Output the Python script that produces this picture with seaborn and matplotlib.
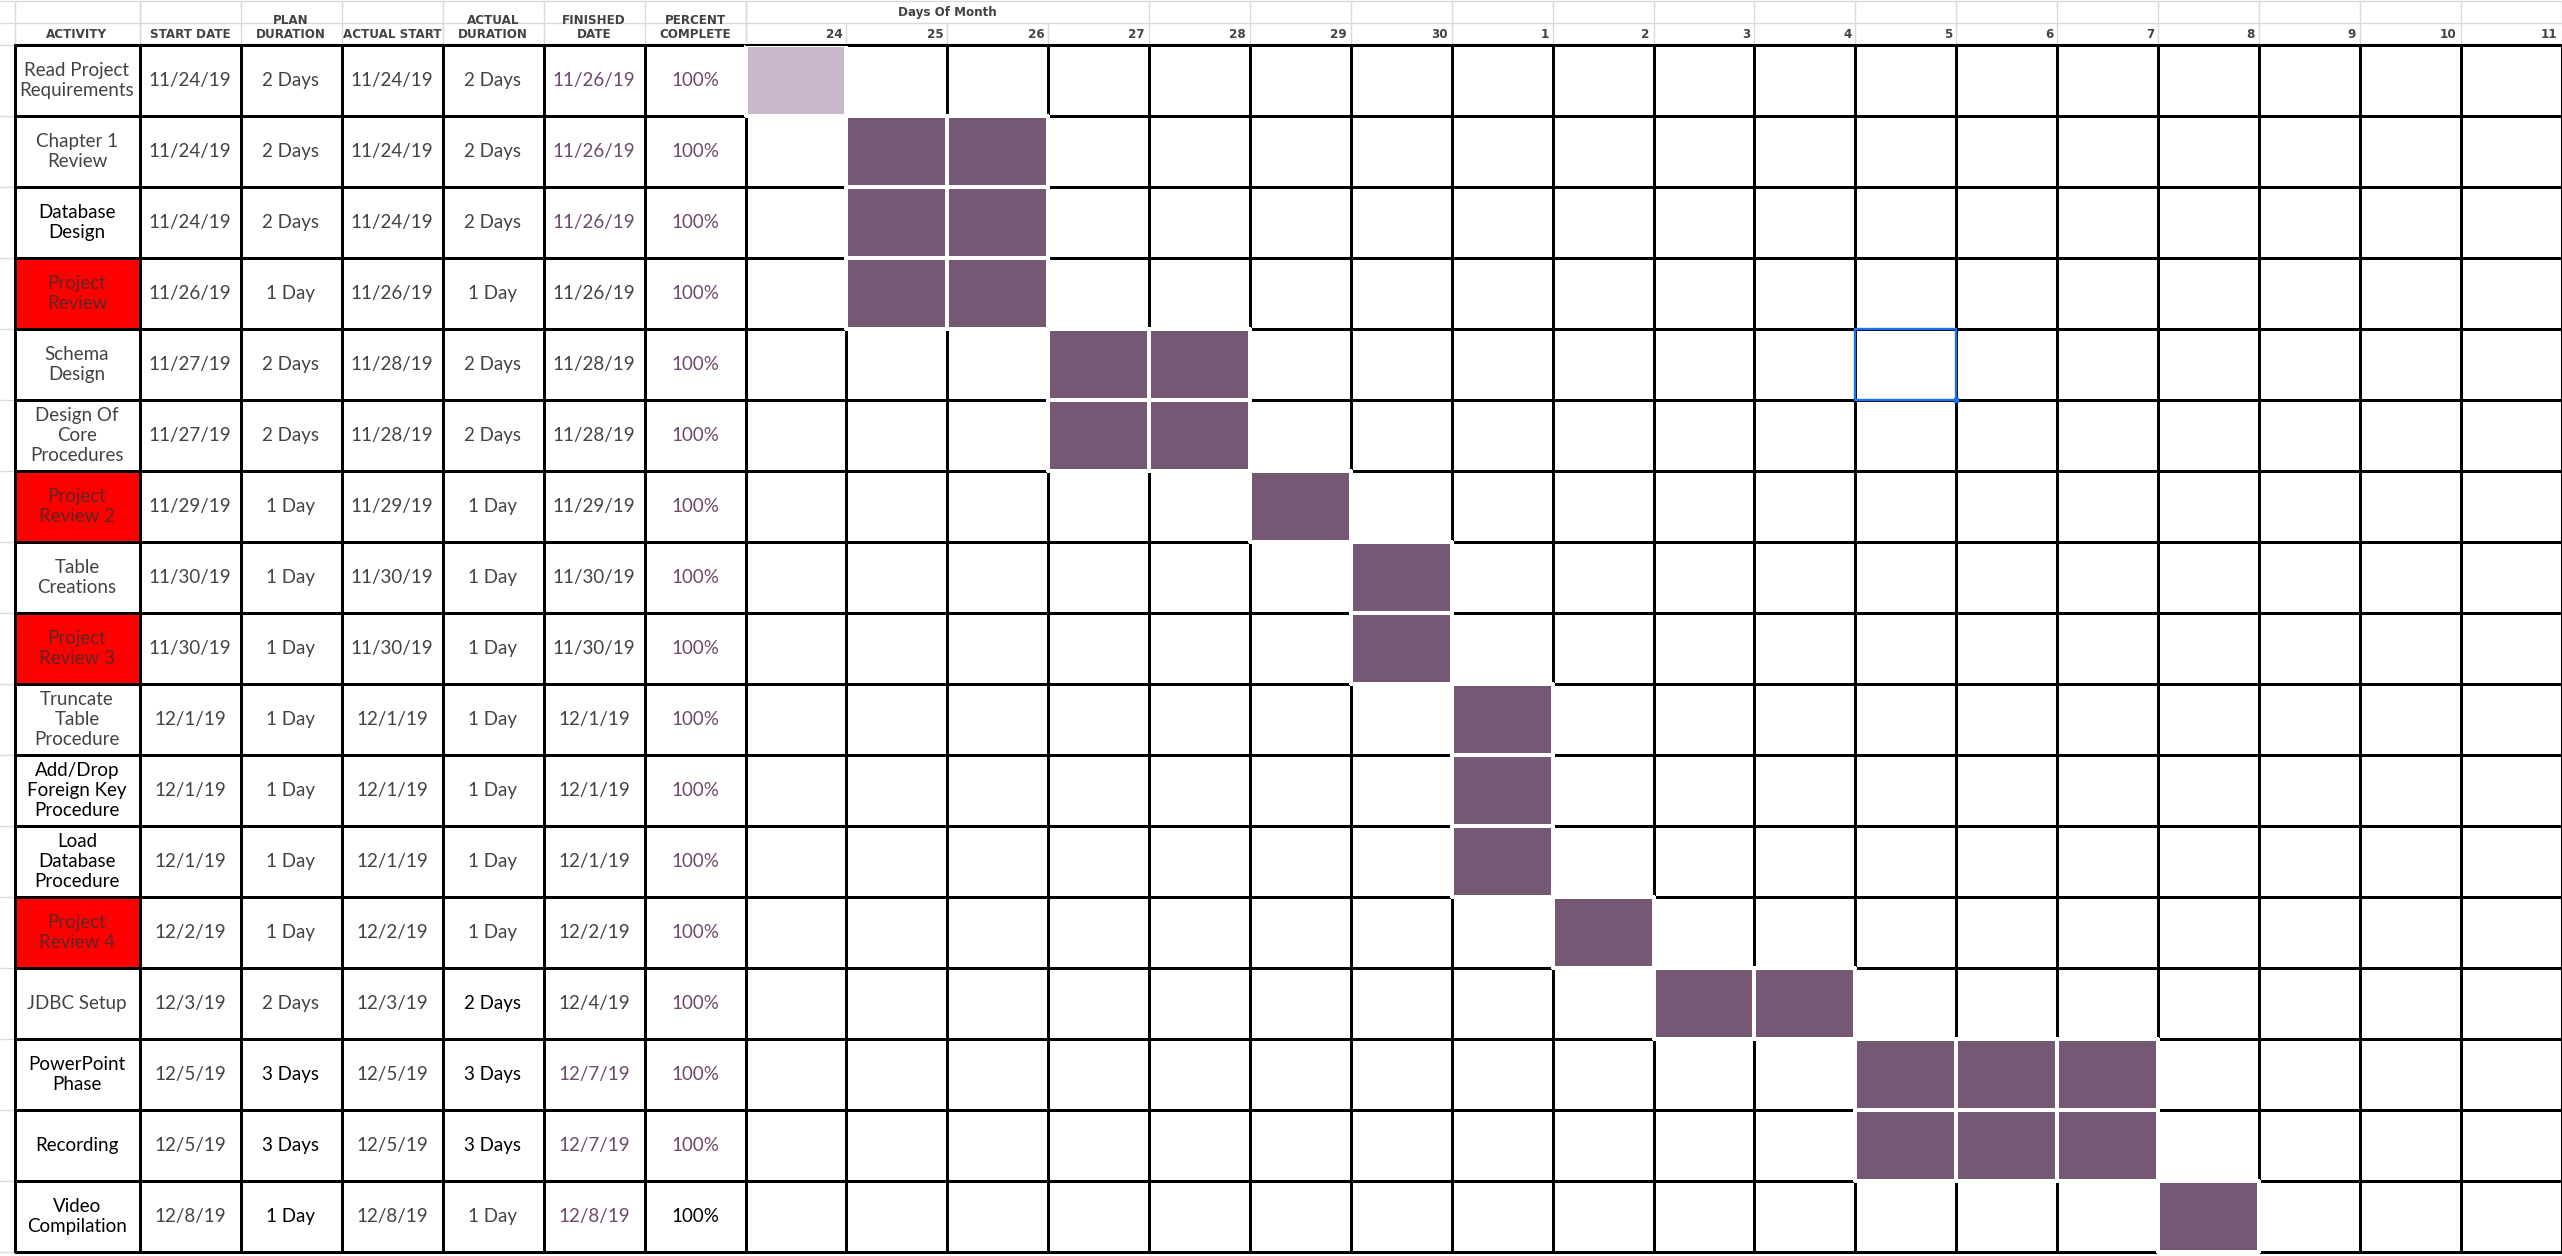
import numpy as np
import matplotlib
matplotlib.use("Agg")
import matplotlib.pyplot as plt
from matplotlib.colors import ListedColormap
from matplotlib.patches import Rectangle
import seaborn as sns

# table data
activities = ["Read Project\nRequirements", "Chapter 1\nReview", "Database\nDesign", "Project\nReview",
              "Schema\nDesign", "Design Of\nCore\nProcedures", "Project\nReview 2", "Table\nCreations",
              "Project\nReview 3", "Truncate\nTable\nProcedure", "Add/Drop\nForeign Key\nProcedure",
              "Load\nDatabase\nProcedure", "Project\nReview 4", "JDBC Setup", "PowerPoint\nPhase",
              "Recording", "Video\nCompilation"]
is_review = [0, 0, 0, 1, 0, 0, 1, 0, 1, 0, 0, 0, 1, 0, 0, 0, 0]
start_date = ["11/24/19", "11/24/19", "11/24/19", "11/26/19", "11/27/19", "11/27/19", "11/29/19", "11/30/19",
              "11/30/19", "12/1/19", "12/1/19", "12/1/19", "12/2/19", "12/3/19", "12/5/19", "12/5/19", "12/8/19"]
plan_duration = ["2 Days", "2 Days", "2 Days", "1 Day", "2 Days", "2 Days", "1 Day", "1 Day", "1 Day",
                 "1 Day", "1 Day", "1 Day", "1 Day", "2 Days", "3 Days", "3 Days", "1 Day"]
actual_start = ["11/24/19", "11/24/19", "11/24/19", "11/26/19", "11/28/19", "11/28/19", "11/29/19", "11/30/19",
                "11/30/19", "12/1/19", "12/1/19", "12/1/19", "12/2/19", "12/3/19", "12/5/19", "12/5/19", "12/8/19"]
actual_duration = ["2 Days", "2 Days", "2 Days", "1 Day", "2 Days", "2 Days", "1 Day", "1 Day", "1 Day",
                   "1 Day", "1 Day", "1 Day", "1 Day", "2 Days", "3 Days", "3 Days", "1 Day"]
finished_date = ["11/26/19", "11/26/19", "11/26/19", "11/26/19", "11/28/19", "11/28/19", "11/29/19", "11/30/19",
                 "11/30/19", "12/1/19", "12/1/19", "12/1/19", "12/2/19", "12/4/19", "12/7/19", "12/7/19", "12/8/19"]
percent_complete = ["100%"] * 17
headers = ["START DATE", "PLAN\nDURATION", "ACTUAL START", "ACTUAL\nDURATION", "FINISHED\nDATE", "PERCENT\nCOMPLETE"]

# gantt data
days = [24, 25, 26, 27, 28, 29, 30, 1, 2, 3, 4, 5, 6, 7, 8, 9, 10, 11]
bar_start = [24, 25, 25, 25, 27, 27, 29, 30, 30, 1, 1, 1, 2, 3, 5, 5, 8]
bar_days = [1, 2, 2, 2, 2, 2, 1, 1, 1, 1, 1, 1, 1, 2, 3, 3, 1]
bar_shade = [1, 2, 2, 2, 2, 2, 2, 2, 2, 2, 2, 2, 2, 2, 2, 2, 2]

# text colours: g = grey, k = black, p = purple, r = text on red cells
act_color = ["g", "g", "k", "r", "g", "g", "r", "g", "r", "g", "k", "k", "r", "g", "k", "k", "k"]
col_colors = [
    ["g"] * 17,
    ["g"] * 14 + ["k", "k", "k"],
    ["g"] * 17,
    ["g"] * 13 + ["k", "k", "k", "g"],
    ["p", "p", "p"] + ["g"] * 11 + ["p", "p", "p"],
    ["p"] * 16 + ["k"],
]
palette = {"g": "#434343", "k": "#000000", "p": "#6e4a6c", "r": "#5e2626"}

GREY = "#434343"
LIGHT = "#dadada"
PURPLE = "#755873"
LILAC = "#c9b8cb"

sns.set_style("white")
plt.rcParams["font.family"] = ["Lato", "DejaVu Sans"]
head_font = dict(family=["Liberation Sans Narrow", "DejaVu Sans"], fontstretch="condensed",
                 fontweight="bold", color=GREY, fontsize=9.5)

W, H = 2562, 1256
top, bot = 45, 1252
x0, x1, x2 = 14.5, 139.5, 745.5
cw = 100.9
n = len(activities)

fig = plt.figure(figsize=(W / 100, H / 100), dpi=100)
fig.patch.set_facecolor("white")


def add_ax(xa, xb):
    return fig.add_axes([xa / W, (H - bot) / H, (xb - xa) / W, (bot - top) / H])


ax_act = add_ax(x0, x1)
ax_tab = add_ax(x1, x2)
ax_g = add_ax(x2, x2 + cw * len(days))

annot_kws = {"fontsize": 13.5, "family": ["Lato", "DejaVu Sans"]}
line_kw = dict(linewidths=0.85, linecolor="black", cbar=False, xticklabels=False, yticklabels=False)

# activity column
act_vals = np.array(is_review).reshape(-1, 1)
sns.heatmap(act_vals, ax=ax_act, cmap=ListedColormap(["white", "#ff0000"]), vmin=0, vmax=1,
            annot=np.array(activities).reshape(-1, 1), fmt="", annot_kws=annot_kws, **line_kw)
for t, c in zip(ax_act.texts, act_color):
    t.set_color(palette[c])

# data columns
table = np.array([start_date, plan_duration, actual_start, actual_duration, finished_date, percent_complete]).T
sns.heatmap(np.zeros(table.shape), ax=ax_tab, cmap=ListedColormap(["white"]), vmin=0, vmax=1,
            annot=table, fmt="", annot_kws=annot_kws, **line_kw)
cols = np.array(col_colors).T.flatten()
for t, c in zip(ax_tab.texts, cols):
    t.set_color(palette[c])

# gantt grid
grid = np.zeros((n, len(days)))
for r in range(n):
    s = days.index(bar_start[r])
    grid[r, s:s + bar_days[r]] = bar_shade[r]
gcmap = ListedColormap(["white", LILAC, PURPLE])
sns.heatmap(grid, ax=ax_g, cmap=gcmap, vmin=0, vmax=2, **line_kw)
# filled cells again, with white gaps between them
sns.heatmap(grid, ax=ax_g, cmap=gcmap, vmin=0, vmax=2, mask=grid == 0,
            linewidths=1.5, linecolor="white", cbar=False, xticklabels=False, yticklabels=False)
edge = [(1, 1, 1, 1) if v > 0 else (0, 0, 0, 0) for v in grid.flatten()]
ax_g.collections[-1].set_edgecolors(edge)

for ax in (ax_act, ax_tab, ax_g):
    for coll in ax.collections:
        coll.set_clip_on(False)
    # slightly heavier top border, as in the sheet
    ax.axhline(0, color="black", lw=1.5, zorder=4, clip_on=False)

# selected cell
sel_r, sel_c = 4, days.index(5)
ax_g.add_patch(Rectangle((sel_c, sel_r), 1, 1, fill=False, edgecolor="#1a73e8", lw=1.7, zorder=5))
ax_g.plot(sel_c + 1, sel_r + 1, "s", ms=3.5, color="#1a73e8", zorder=6, clip_on=False)

# spreadsheet grey lines above / left of the table
y_mid, y_top = -0.31, -0.62
for ax, ncol in ((ax_act, 1), (ax_tab, 6), (ax_g, len(days))):
    ax.hlines([y_mid, y_top], 0, ncol, color=LIGHT, lw=1, clip_on=False, zorder=0)
    for xb in range(ncol + 1):
        ylo = y_mid if (ax is ax_g and 0 < xb < 4) else y_top
        ax.vlines(xb, ylo, 0, color=LIGHT, lw=1, clip_on=False, zorder=0)
ax_act.hlines(list(range(n + 1)) + [y_mid, y_top], -0.12, 0, color=LIGHT, lw=1, clip_on=False, zorder=0)

# header labels
y_head = -0.05
ax_act.text(0.5, y_head, "ACTIVITY", ha="center", va="bottom", linespacing=1.15, **head_font)
for i, h in enumerate(headers):
    ax_tab.text(i + 0.5, y_head, h, ha="center", va="bottom", linespacing=1.15, **head_font)
for i, d in enumerate(days):
    ax_g.text(i + 1 - 0.04, y_head, str(d), ha="right", va="bottom", **head_font)
ax_g.text(2, -0.46, "Days Of Month", ha="center", va="center", **head_font)

fig.savefig("out.png", dpi=100, facecolor="white")
